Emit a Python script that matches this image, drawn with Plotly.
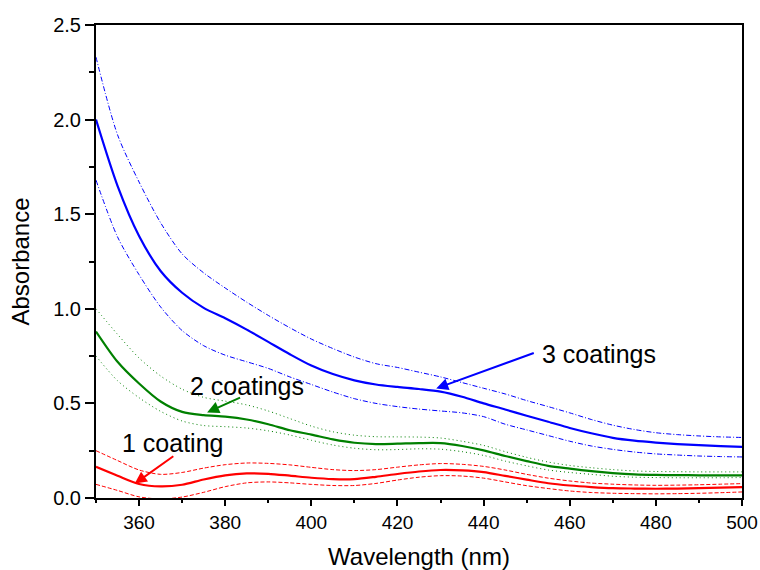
import plotly.graph_objects as go

wavelength = list(range(350, 501, 5))

blue_solid = [2.00, 1.65, 1.385, 1.20, 1.085, 1.005, 0.95, 0.89, 0.825, 0.76, 0.70, 0.655, 0.622, 0.60,
              0.587, 0.576, 0.562, 0.535, 0.50, 0.468, 0.435, 0.403, 0.37, 0.342, 0.318, 0.303, 0.293,
              0.285, 0.279, 0.274, 0.27]
blue_upper = [2.33, 1.92, 1.67, 1.455, 1.29, 1.19, 1.11, 1.035, 0.965, 0.90, 0.84, 0.79, 0.745, 0.71,
              0.69, 0.665, 0.64, 0.61, 0.58, 0.55, 0.515, 0.483, 0.45, 0.415, 0.385, 0.362, 0.345,
              0.335, 0.328, 0.323, 0.32]
blue_lower = [1.68, 1.38, 1.18, 1.01, 0.885, 0.805, 0.755, 0.72, 0.685, 0.64, 0.60, 0.56, 0.525, 0.50,
              0.483, 0.47, 0.46, 0.45, 0.43, 0.39, 0.36, 0.33, 0.30, 0.275, 0.257, 0.243, 0.233,
              0.227, 0.222, 0.219, 0.217]

green_solid = [0.88, 0.72, 0.605, 0.51, 0.455, 0.438, 0.43, 0.415, 0.39, 0.358, 0.335, 0.31, 0.292,
               0.285, 0.287, 0.29, 0.29, 0.275, 0.252, 0.222, 0.195, 0.17, 0.155, 0.142, 0.132,
               0.125, 0.122, 0.121, 0.12, 0.12, 0.12]
green_upper = [1.00, 0.865, 0.74, 0.645, 0.575, 0.532, 0.512, 0.492, 0.46, 0.42, 0.38, 0.35, 0.332,
               0.324, 0.323, 0.322, 0.317, 0.30, 0.278, 0.245, 0.215, 0.19, 0.172, 0.16, 0.15,
               0.143, 0.14, 0.139, 0.138, 0.138, 0.138]
green_lower = [0.75, 0.62, 0.53, 0.458, 0.407, 0.383, 0.377, 0.37, 0.355, 0.333, 0.305, 0.28, 0.263,
               0.255, 0.256, 0.26, 0.258, 0.245, 0.225, 0.195, 0.17, 0.148, 0.135, 0.125, 0.115,
               0.11, 0.108, 0.107, 0.107, 0.107, 0.108]

red_solid = [0.165, 0.118, 0.074, 0.061, 0.07, 0.098, 0.12, 0.13, 0.128, 0.118, 0.107, 0.10, 0.10,
             0.112, 0.127, 0.14, 0.148, 0.146, 0.137, 0.117, 0.097, 0.078, 0.066, 0.058, 0.052,
             0.05, 0.049, 0.05, 0.052, 0.055, 0.058]
red_upper = [0.25, 0.198, 0.148, 0.125, 0.135, 0.158, 0.176, 0.185, 0.183, 0.175, 0.162, 0.15, 0.145,
             0.15, 0.163, 0.175, 0.182, 0.178, 0.167, 0.148, 0.125, 0.105, 0.09, 0.079, 0.073,
             0.069, 0.067, 0.068, 0.07, 0.073, 0.076]
red_lower = [0.072, 0.04, 0.006, -0.005, 0.005, 0.03, 0.06, 0.08, 0.085, 0.08, 0.072, 0.066, 0.066,
             0.077, 0.095, 0.11, 0.118, 0.116, 0.105, 0.085, 0.065, 0.05, 0.037, 0.029, 0.025,
             0.023, 0.022, 0.023, 0.025, 0.028, 0.032]

x_ticks = [360, 380, 400, 420, 440, 460, 480, 500]
y_ticks = [0.0, 0.5, 1.0, 1.5, 2.0, 2.5]
y_tick_labels = ["0.0", "0.5", "1.0", "1.5", "2.0", "2.5"]

labels = ["3 coatings", "2 coatings", "1 coating"]
label_pos = [(466.8, 0.76), (385.1, 0.591), (367.8, 0.289)]
arrow_tail = [(452.0, 0.769), (383.8, 0.534), (368.3, 0.226)]
arrow_head = [(429.0, 0.579), (375.8, 0.452), (359.0, 0.076)]

BLUE, GREEN, RED = "#0000FF", "#008000", "#FF0000"

fig = go.Figure()

def add(y, color, width, dash):
    fig.add_trace(go.Scatter(x=wavelength, y=y, mode="lines",
                             line=dict(color=color, width=width, dash=dash, shape="spline", smoothing=0.8),
                             showlegend=False, hoverinfo="skip"))

add(blue_upper, BLUE, 1, "5px,2px,1px,2px")
add(blue_lower, BLUE, 1, "5px,2px,1px,2px")
add(blue_solid, BLUE, 2.2, "solid")
add(green_upper, GREEN, 1, "1px,3px")
add(green_lower, GREEN, 1, "1px,3px")
add(green_solid, GREEN, 2.2, "solid")
add(red_upper, RED, 1, "4px,2px")
add(red_lower, RED, 1, "4px,2px")
add(red_solid, RED, 2.2, "solid")

font_family = "Liberation Sans, Arial"
colors = [BLUE, GREEN, RED]
for i in range(3):
    fig.add_annotation(x=arrow_head[i][0], y=arrow_head[i][1], ax=arrow_tail[i][0], ay=arrow_tail[i][1],
                       xref="x", yref="y", axref="x", ayref="y", text="", showarrow=True,
                       arrowhead=2, arrowsize=1.2, arrowwidth=2, arrowcolor=colors[i], standoff=0)
    fig.add_annotation(x=label_pos[i][0], y=label_pos[i][1], xref="x", yref="y", text=labels[i],
                       showarrow=False, xanchor="center", yanchor="middle",
                       font=dict(size=25, color="black", family=font_family))

fig.update_xaxes(range=[350, 500], tickvals=x_ticks, ticks="outside", ticklen=6, tickwidth=1.5,
                 tickcolor="black", showline=True, linecolor="black", linewidth=2, mirror=True,
                 showgrid=False, zeroline=False, automargin=False,
                 minor=dict(dtick=10, ticks="outside", ticklen=3, tickcolor="black", tickwidth=1.5),
                 tickfont=dict(size=19, color="black", family=font_family),
                 title=dict(text="Wavelength (nm)", font=dict(size=24, color="black", family=font_family),
                            standoff=20))
fig.update_yaxes(range=[0, 2.5], tickvals=y_ticks, ticktext=y_tick_labels, ticks="outside", ticklen=9,
                 tickwidth=1.5, tickcolor="black", showline=True, linecolor="black", linewidth=2,
                 mirror=True, showgrid=False, zeroline=False, automargin=False,
                 minor=dict(dtick=0.25, ticks="outside", ticklen=5, tickcolor="black", tickwidth=1.5),
                 tickfont=dict(size=20, color="black", family=font_family),
                 title=dict(text="Absorbance", font=dict(size=24, color="black", family=font_family),
                            standoff=17))

fig.update_layout(width=760, height=570, margin=dict(l=96, r=18, t=25, b=72),
                  plot_bgcolor="white", paper_bgcolor="white",
                  font=dict(family=font_family, color="black"))

fig.write_html("out.html")
